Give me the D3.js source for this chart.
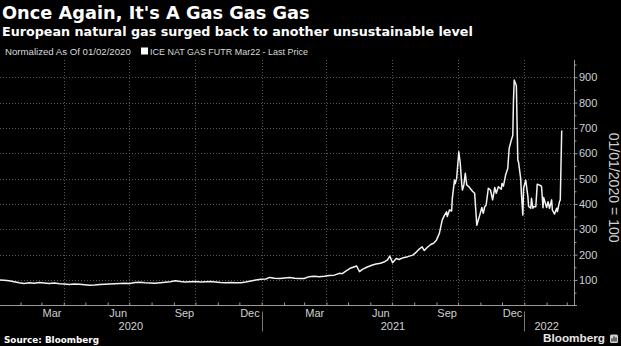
<!DOCTYPE html>
<html><head><meta charset="utf-8">
<script src="https://cdn.jsdelivr.net/npm/d3@7"></script>
<style>
html,body{margin:0;padding:0;background:#000;}
svg{display:block;}
</style></head>
<body>
<svg id="chart" width="621" height="346"></svg>
<script>
const title = "Once Again, It's A Gas Gas Gas";
const subtitle = "European natural gas surged back to another unsustainable level";
const legendNote = "Normalized As Of 01/02/2020";
const seriesName = "ICE NAT GAS FUTR Mar22 - Last Price";
const axisTitle = "01/01/2020 = 100";
const source = "Source: Bloomberg";

const dates = [
"2020-01-02","2020-01-09","2020-01-16","2020-01-23","2020-01-30","2020-02-06","2020-02-13","2020-02-20","2020-02-27",
"2020-03-05","2020-03-12","2020-03-19","2020-03-26","2020-04-02","2020-04-09","2020-04-16","2020-04-23","2020-04-30",
"2020-05-07","2020-05-14","2020-05-21","2020-05-28","2020-06-04","2020-06-11","2020-06-18","2020-06-25","2020-07-02",
"2020-07-09","2020-07-16","2020-07-23","2020-07-30","2020-08-06","2020-08-13","2020-08-20","2020-08-27","2020-09-03",
"2020-09-10","2020-09-17","2020-09-24","2020-10-01","2020-10-08","2020-10-15","2020-10-22","2020-10-29","2020-11-05",
"2020-11-12","2020-11-19","2020-11-26","2020-12-03","2020-12-10","2020-12-17","2020-12-24","2020-12-31",
"2021-01-07","2021-01-12","2021-01-19","2021-01-26","2021-02-02","2021-02-09","2021-02-16","2021-02-22","2021-03-01",
"2021-03-08","2021-03-15","2021-03-22","2021-03-29","2021-04-05","2021-04-12","2021-04-19","2021-04-23","2021-04-29",
"2021-05-04","2021-05-10","2021-05-13","2021-05-17","2021-05-21","2021-05-27","2021-06-04","2021-06-09","2021-06-15",
"2021-06-21","2021-06-25","2021-06-28","2021-07-02","2021-07-07","2021-07-11","2021-07-17","2021-07-23","2021-07-30",
"2021-08-04","2021-08-08","2021-08-12","2021-08-15","2021-08-19","2021-08-24","2021-08-28","2021-09-01","2021-09-05",
"2021-09-09","2021-09-12","2021-09-15","2021-09-16","2021-09-19","2021-09-22","2021-09-23","2021-09-26","2021-09-27",
"2021-09-29","2021-10-02","2021-10-04","2021-10-06","2021-10-07","2021-10-09","2021-10-11","2021-10-13","2021-10-16",
"2021-10-21","2021-10-24","2021-10-27","2021-10-31","2021-11-03","2021-11-05","2021-11-07","2021-11-09","2021-11-12",
"2021-11-15","2021-11-18","2021-11-21","2021-11-23","2021-11-26","2021-11-30","2021-12-01","2021-12-03","2021-12-06",
"2021-12-09","2021-12-11","2021-12-14","2021-12-16","2021-12-17","2021-12-18","2021-12-21","2021-12-22","2021-12-23",
"2021-12-24","2021-12-27","2021-12-28","2021-12-30","2021-12-31","2022-01-03","2022-01-06","2022-01-07","2022-01-10",
"2022-01-11","2022-01-13","2022-01-14","2022-01-17","2022-01-19","2022-01-24","2022-01-25","2022-01-27","2022-01-28",
"2022-02-01","2022-02-03","2022-02-05","2022-02-08","2022-02-09","2022-02-12","2022-02-15","2022-02-16","2022-02-19",
"2022-02-20","2022-02-22"
];
const values = [
100,99,97,93,89,86,89,87,90,
88,86,88,85,84,82,84,83,81,
79,80,82,83,84,85,86,87,86,
90,91,89,88,87,89,91,93,97,
94,92,93,94,92,93,94,92,90,
89,90,89,89,92,96,100,103,
104,110,107,106,108,110,107,106,106,
113,115,113,115,118,119,126,125,137,
146,152,155,133,142,150,159,163,166,
172,179,194,168,185,181,188,192,198,
210,222,231,216,228,240,245,258,284,
337,355,369,350,376,372,422,494,480,
501,606,560,481,455,475,521,475,468,
450,442,316,355,386,363,389,396,462,
455,416,465,442,468,458,481,470,514,
540,620,652,670,810,889,866,711,573,
565,500,440,356,462,494,429,390,383,
422,383,389,389,478,472,468,385,425,
386,409,383,416,376,360,383,370,410,
415,690
];
const yTicks = [100,200,300,400,500,600,700,800,900];
const monthLabels = ["Mar","Jun","Sep","Dec"];
const years = [2020,2021,2022];

const W = 621, H = 346;
const plot = {left:0, right:574.5, top:60, bottom:305.3};
const parse = d3.timeParse("%Y-%m-%d");
const data = dates.map((d,i)=>({date:parse(d), value:values[i]}));

const x = d3.scaleTime()
  .domain([new Date(2020,0,1), new Date(2022,2,14)])
  .range([-1.7, 576.1]);
const y = d3.scaleLinear().domain([0, 968]).range([plot.bottom, plot.top]);

const svg = d3.select("#chart");
svg.append("rect").attr("width",W).attr("height",H).attr("fill","#000");

const sans = "'Liberation Sans', Arial, sans-serif";
const narrow = "'Liberation Sans Narrow', 'Liberation Sans', Arial, sans-serif";
const bold = "'DejaVu Sans', sans-serif";

function fit(sel, target){
  const n = sel.node();
  const w = n.getComputedTextLength();
  const fs = parseFloat(sel.attr("font-size"));
  if (w>0) sel.attr("font-size", (fs*target/w).toFixed(2));
}

// header
fit(svg.append("text").attr("x",2).attr("y",18.5).attr("fill","#fff")
  .attr("font-family",bold).attr("font-weight","bold").attr("font-size",17).text(title), 308);
fit(svg.append("text").attr("x",2).attr("y",36).attr("fill","#fff")
  .attr("font-family",bold).attr("font-weight","bold").attr("font-size",12.5).text(subtitle), 471);
fit(svg.append("text").attr("x",5).attr("y",55).attr("fill","#d8d8d8")
  .attr("font-family",narrow).attr("font-size",10).text(legendNote), 126);
svg.append("rect").attr("x",141).attr("y",47.5).attr("width",7).attr("height",7).attr("fill","#fff");
fit(svg.append("text").attr("x",150).attr("y",55).attr("fill","#d8d8d8")
  .attr("font-family",narrow).attr("font-size",10).text(seriesName), 158);

// grid
const g = svg.append("g");
const quarters = d3.timeMonth.every(3).range(new Date(2020,1,1), new Date(2022,2,14));
g.selectAll(".vg").data(quarters).join("line")
  .attr("x1",d=>Math.round(x(d))+0.5).attr("x2",d=>Math.round(x(d))+0.5)
  .attr("y1",plot.top).attr("y2",plot.bottom)
  .attr("stroke","#555").attr("stroke-width",1).attr("stroke-dasharray","1,2");
g.selectAll(".hg").data(yTicks).join("line")
  .attr("x1",plot.left).attr("x2",plot.right)
  .attr("y1",d=>Math.round(y(d))+0.5).attr("y2",d=>Math.round(y(d))+0.5)
  .attr("stroke","#555").attr("stroke-width",1).attr("stroke-dasharray","1,2");

// line
svg.append("clipPath").attr("id","clip").append("rect")
  .attr("x",0).attr("y",0).attr("width",plot.right).attr("height",H);
const line = d3.line().x(d=>x(d.date)).y(d=>y(d.value)).curve(d3.curveLinear);
svg.append("path").datum(data).attr("clip-path","url(#clip)")
  .attr("d",line).attr("fill","none").attr("stroke","#f2f2f2")
  .attr("stroke-width",1.5).attr("stroke-linejoin","round");

// right axis
const axisColor = "#9a9a9a";
const yAxis = svg.append("g").attr("transform",`translate(${plot.right},0)`)
  .call(d3.axisRight(y).tickValues(yTicks).tickSize(3).tickPadding(1.5).tickFormat(d3.format("d")));
yAxis.select(".domain").remove();
yAxis.selectAll(".tick line").attr("stroke",axisColor);
yAxis.selectAll(".tick text").attr("fill","#d0d0d0").attr("font-family",sans).attr("font-size",11);
const yMinor = svg.append("g").attr("transform",`translate(${plot.right},0)`)
  .call(d3.axisRight(y).tickValues(yTicks.map(v=>v-50).concat([950])).tickSize(2).tickFormat(""));
yMinor.select(".domain").remove();
yMinor.selectAll(".tick line").attr("stroke",axisColor);
svg.append("line").attr("x1",plot.right).attr("x2",plot.right)
  .attr("y1",plot.top).attr("y2",plot.bottom).attr("stroke",axisColor);

fit(svg.append("text").attr("transform",`translate(608.5,${(plot.top+plot.bottom)/2+5}) rotate(90)`)
  .attr("text-anchor","middle").attr("fill","#d0d0d0").attr("font-family",sans)
  .attr("font-size",13).text(axisTitle), 110);

// bottom axis
svg.append("line").attr("x1",0).attr("x2",plot.right+2.5)
  .attr("y1",Math.round(plot.bottom)+0.5).attr("y2",Math.round(plot.bottom)+0.5).attr("stroke",axisColor);
const monthStarts = d3.timeMonth.range(new Date(2020,1,1), new Date(2022,2,14));
const xTicks = svg.append("g").attr("transform",`translate(0,${Math.round(plot.bottom)+0.5})`)
  .call(d3.axisBottom(x).tickValues(monthStarts).tickSize(-3).tickFormat(""));
xTicks.select(".domain").remove();
xTicks.selectAll(".tick line").attr("stroke",axisColor);

const labelDates = d3.timeMonth.range(new Date(2020,0,1), new Date(2022,0,1))
  .filter(d=>monthLabels.includes(d3.timeFormat("%b")(d)))
  .map(d=>d3.timeDay.offset(d,14));
const xLab = svg.append("g").attr("transform",`translate(0,${Math.round(plot.bottom)})`)
  .call(d3.axisBottom(x).tickValues(labelDates).tickSize(0).tickPadding(4).tickFormat(d3.timeFormat("%b")));
xLab.select(".domain").remove();
xLab.selectAll(".tick text").attr("fill","#d0d0d0").attr("font-family",sans).attr("font-size",11);

// year row
const [d0,d1] = x.domain();
years.forEach(yr=>{
  const a = new Date(Math.max(+new Date(yr,0,1), +d0));
  const b = new Date(Math.min(+new Date(yr+1,0,1), +d1));
  svg.append("text").attr("x",(Math.max(x(a),0)+Math.min(x(b),569))/2).attr("y",329.5)
    .attr("text-anchor","middle").attr("fill","#d0d0d0").attr("font-family",sans)
    .attr("font-size",11).text(yr);
  if (yr>2020){
    const xs = Math.round(x(new Date(yr,0,1)))+0.5;
    svg.append("line").attr("x1",xs).attr("x2",xs).attr("y1",311.5).attr("y2",331.5)
      .attr("stroke","#777");
  }
});

// footer
fit(svg.append("text").attr("x",4).attr("y",343).attr("fill","#fff")
  .attr("font-family",bold).attr("font-weight","bold").attr("font-size",9).text(source), 95);
fit(svg.append("text").attr("x",543).attr("y",342).attr("fill","#e6e6e6")
  .attr("font-family",sans).attr("font-weight","bold").attr("font-size",12).text("Bloomberg"), 62);
svg.append("rect").attr("x",610).attr("y",334.5).attr("width",8).attr("height",8.5).attr("rx",1.5).attr("fill","#cfcfcf");
svg.append("path").attr("d","M612,341.5 v-3 M614,341.5 v-5 M616,341.5 v-4").attr("stroke","#000").attr("stroke-width",1);
</script>
</body></html>
